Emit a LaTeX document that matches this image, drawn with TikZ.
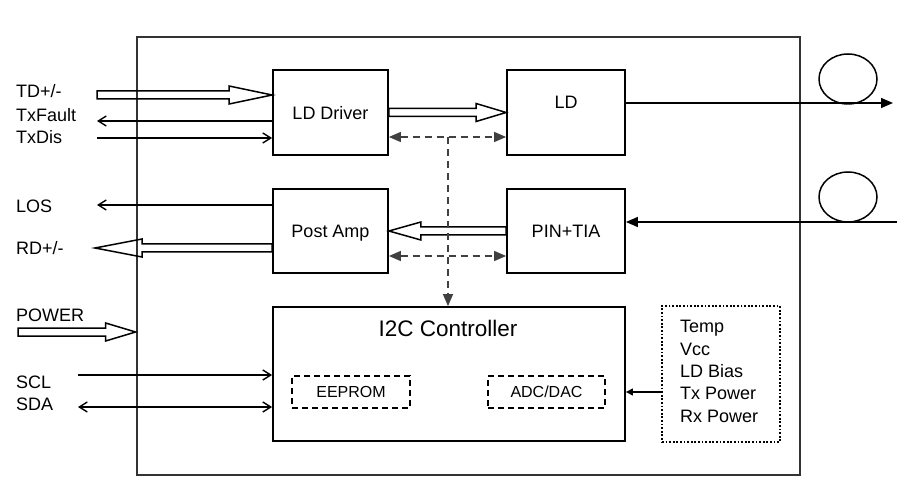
\documentclass[tikz,border=0pt]{standalone}
\usepackage{fontspec}
\setmainfont{Liberation Sans}
\usetikzlibrary{arrows.meta,shapes.geometric,calc}

\definecolor{modgray}{HTML}{333333}
\definecolor{busgray}{HTML}{404040}

\tikzset{
  blk/.style={draw=black, line width=1.8pt, minimum width=115pt, minimum height=85pt, inner sep=0pt, text depth=0pt},
  sub/.style={draw=black, line width=1.6pt, dash pattern=on 6pt off 4pt, minimum width=118pt, minimum height=32pt, inner sep=0pt, font=\fontsize{16}{19}\selectfont},
  sig/.style={draw=black, line width=1.4pt},
  fatline/.style={draw=black, line width=1.5pt},
  ctlbus/.style={draw=busgray, line width=1.5pt, dash pattern=on 7pt off 5pt},
  lbl/.style={anchor=base west, inner sep=0pt},
  fiber/.style={draw=black, ellipse, line width=1.5pt, minimum width=58pt, minimum height=50pt},
  tri/.tip={Triangle[length=12pt,width=10pt]},
  stri/.tip={Triangle[length=7pt,width=7pt]},
  >={Straight Barb[length=8pt,width=10pt]}
}

% hollow arrow from #2 to #3, head length #1
\newcommand\fatarrow[3][30]{%
  \draw[fatline] let \p1=(#2), \p2=(#3), \n1={sign(\x2-\x1)} in
    (\x1,{\y1+4pt}) -- ({\x2-(\n1)*#1pt},{\y1+4pt}) -- ({\x2-(\n1)*#1pt},{\y1+9pt})
    -- (\x2,\y1) -- ({\x2-(\n1)*#1pt},{\y1-9pt}) -- ({\x2-(\n1)*#1pt},{\y1-4pt})
    -- (\x1,{\y1-4pt}) -- cycle;}

\begin{document}
\begin{tikzpicture}[x=1pt, y=-1pt, font=\fontsize{18}{21}\selectfont]
  \useasboundingbox (0,0) rectangle (919,489);

  % module outline
  \node[draw=modgray, line width=2.8pt, minimum width=663pt, minimum height=438pt, inner sep=0pt] (mod) at (468.5,256) {};

  % blocks
  \node[blk] (drv) at (330.5,112.5) {LD Driver};
  \node[blk, minimum width=118pt, label={[yshift=10pt]center:LD}] (ld) at (566,112.5) {};
  \node[blk, minimum height=84pt] (pamp) at (330.5,231) {Post Amp};
  \node[blk, minimum width=118pt, minimum height=84pt] (pin) at (566,231) {PIN+TIA};
  \node[blk, minimum width=352pt, minimum height=134pt] (i2c) at (449,374) {};
  \node[anchor=base, inner sep=0pt, font=\fontsize{22.5}{26}\selectfont] (i2ct) at (448,337) {I2C Controller};
  \node[sub] (eep) at (351,392) {EEPROM};
  \node[sub, minimum width=117pt] (adc) at (546.5,392) {ADC/DAC};

  % monitored values
  \node[draw=black, line width=1.6pt, dash pattern=on 1.8pt off 1.8pt, minimum width=118pt, minimum height=136pt, inner sep=0pt] (mon) at (721,374) {};
  \foreach \t [count=\i] in {Temp, Vcc, LD Bias, Tx Power, Rx Power}
    \node[lbl] (mon\i) at (680,{310.7+22.3*\i}) {\t};

  % fibers
  \node[fiber] (txfib) at (848,79) {};
  \node[fiber] (rxfib) at (848,197) {};

  % pin labels
  \node[lbl] (tdl) at (16,98) {TD+/-};
  \node[lbl] (txfl) at (16,122) {TxFault};
  \node[lbl] (txdl) at (16,144) {TxDis};
  \node[lbl] (losl) at (16,213) {LOS};
  \node[lbl] (rdl) at (16,255) {RD+/-};
  \node[lbl] (pwrl) at (16,322) {POWER};
  \node[lbl] (scll) at (16,388) {SCL};
  \node[lbl] (sdal) at (16,410) {SDA};

  % free ends
  \coordinate (tdin) at (97,95);
  \coordinate (txf) at (97,121);
  \coordinate (txd) at (97,138);
  \coordinate (los) at (97,205);
  \coordinate (rdout) at (95,248);
  \coordinate (pwrin) at (18,332);
  \coordinate (scl) at (78,375);
  \coordinate (sda) at (78,407);
  \coordinate (txo) at (893,103);
  \coordinate (rxi) at (897,222);
  \coordinate (bus) at (448,137);
  \coordinate (bus2) at (448,256);

  % hollow data paths
  \fatarrow[43]{tdin}{tdin -| drv.west}
  \fatarrow[30]{drv.east}{ld.west}
  \fatarrow[32]{pin.west}{pamp.east}
  \fatarrow[47]{rdout -| pamp.west}{rdout}
  \fatarrow[30]{pwrin}{pwrin -| mod.west}

  % signals
  \draw[sig,->] (txf -| drv.west) -- (txf);
  \draw[sig,->] (txd) -- (txd -| drv.west);
  \draw[sig,->] (los -| pamp.west) -- (los);
  \draw[sig,->] (scl) -- (scl -| i2c.west);
  \draw[sig,<->] (sda) -- (sda -| i2c.west);
  \draw[sig,-tri] (txo -| ld.east) -- (txo);
  \draw[sig,-tri] (rxi) -- (rxi -| pin.east);
  \draw[sig,-stri] (mon.west |- adc) -- (i2c.east |- adc);

  % control bus
  \draw[ctlbus, tri-tri] (bus -| drv.east) -- (bus -| ld.west);
  \draw[ctlbus, tri-tri] (bus2 -| pamp.east) -- (bus2 -| pin.west);
  \draw[ctlbus, -tri] (bus) -- (bus |- i2c.north);
\end{tikzpicture}
\end{document}
